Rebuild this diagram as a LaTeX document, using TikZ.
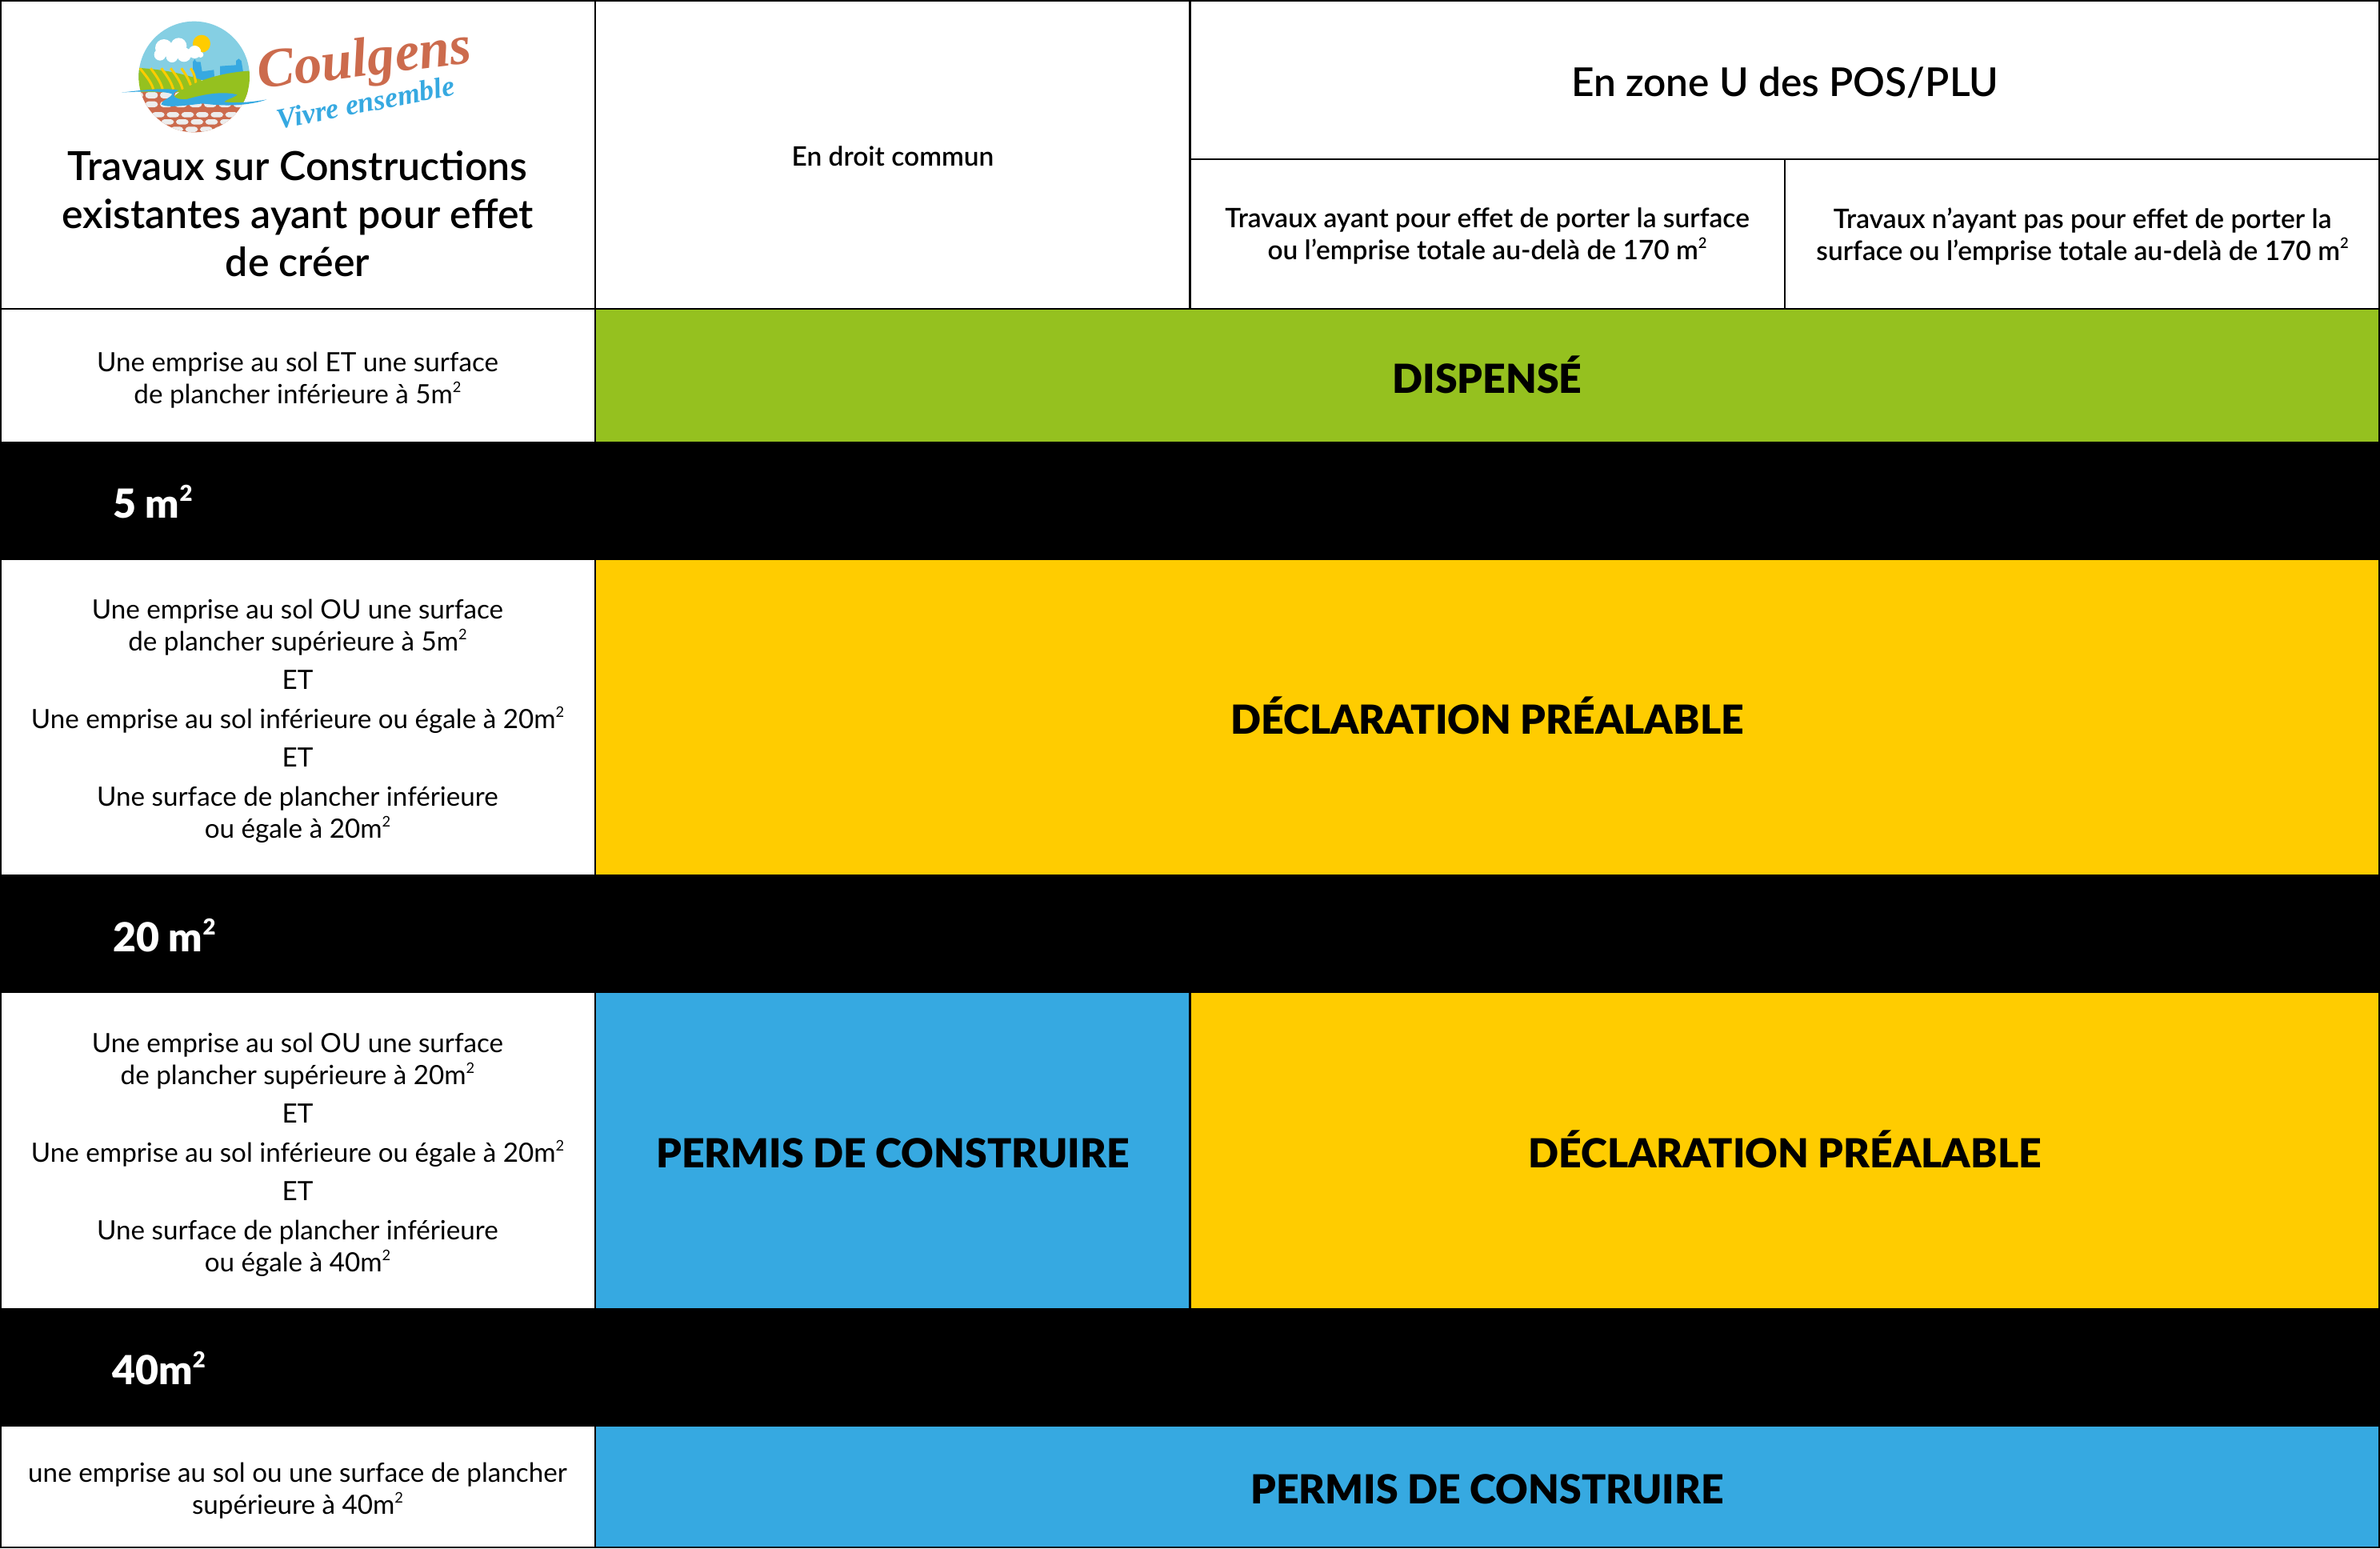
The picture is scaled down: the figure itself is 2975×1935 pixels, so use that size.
\documentclass[tikz,border=0pt]{standalone}
\usepackage{fontspec}
\setmainfont{Lato}
\newfontfamily\latoblack{Lato Black}
\newfontfamily\latomed{Lato Semibold}
\newfontfamily\latoscript{Liberation Serif}[ItalicFont=Liberation Serif Bold Italic]
\definecolor{cgreen}{HTML}{95C11F}
\definecolor{cyellow}{HTML}{FFCC00}
\definecolor{cblue}{HTML}{36A9E1}
\definecolor{csky}{HTML}{85CFE3}
\definecolor{cterra}{HTML}{CC6B4D}
\definecolor{cbrick}{HTML}{EDEDED}
\newcommand{\sqm}{\raisebox{0.42em}{\scalebox{0.55}{2}}}
\tikzset{
  cell/.style={draw=black,line width=1.1pt},
  body/.style={align=center,inner sep=0pt,font=\fontsize{16.6}{20}\selectfont},
  head/.style={align=center,inner sep=0pt,font=\fontsize{16.75}{20}\latomed\selectfont},
  title/.style={align=center,inner sep=0pt,font=\fontsize{25}{30}\latomed\selectfont},
  zonetitle/.style={align=center,inner sep=0pt,font=\fontsize{24.8}{30}\latomed\selectfont},
  verdict/.style={align=center,inner sep=0pt,font=\fontsize{25}{30}\latoblack\selectfont},
  band/.style={anchor=base west,inner sep=0pt,text=white,font=\fontsize{25}{30}\latoblack\selectfont},
}
\begin{document}
\begin{tikzpicture}[x=0.5pt,y=-0.5pt]
\useasboundingbox (0,0) rectangle (2975,1935);
\fill[white] (0,0) rectangle (2975,1935);
% header cells
\path[cell] (1.2,1.2) rectangle (744.2,386);
\path[cell] (744.2,1.2) rectangle (1487.5,386);
\path[cell] (1487.5,1.2) rectangle (2973.8,199);
\path[cell] (1487.5,199) rectangle (2231,386);
\path[cell] (2231,199) rectangle (2973.8,386);
% row 1
\path[cell] (1.2,386) rectangle (744.2,553);
\path[cell,fill=cgreen] (744.2,386) rectangle (2973.8,553);
% row 2
\path[cell] (1.2,699) rectangle (744.2,1094.5);
\path[cell,fill=cyellow] (744.2,699) rectangle (2973.8,1094.5);
% row 3
\path[cell] (1.2,1240) rectangle (744.2,1636);
\path[cell,fill=cblue] (744.2,1240) rectangle (1487.5,1636);
\path[cell,fill=cyellow] (1487.5,1240) rectangle (2973.8,1636);
% row 4
\path[cell] (1.2,1782) rectangle (744.2,1933.8);
\path[cell,fill=cblue] (744.2,1782) rectangle (2973.8,1933.8);
% black bands
\fill[black] (0,552) rectangle (2975,700);
\fill[black] (0,1093.5) rectangle (2975,1241);
\fill[black] (0,1635) rectangle (2975,1783);
% logo (coordinates are 3x pixels, offset 120px)
\begin{scope}[xshift=60pt,x=0.16667pt,y=-0.16667pt]
  \begin{scope}
    \clip (368,288) circle[radius=208];
    \fill[csky] (150,70) rectangle (590,300);
    \fill[cyellow] (396,164) circle[radius=33];
    \fill[white] (255,180) circle[radius=33] (310,172) circle[radius=30] (240,205) circle[radius=22]
      (285,212) circle[radius=22] (330,205) circle[radius=27] (370,195) circle[radius=24] (392,205) circle[radius=11];
    \fill[cblue] (363,300) -- (363,232) -- (370,222) -- (377,232) -- (392,232) -- (398,268) -- (442,262) -- (445,300) -- cycle;
    \fill[cblue] (465,300) -- (465,248) -- (525,244) -- (525,228) -- (535,220) -- (545,228) -- (552,270) -- (552,300) -- cycle;
    \fill[cterra] (150,340) rectangle (590,500);
    \foreach \yy/\hh/\off in {345/24/0,380/22/55,420/20/25,447/20/5,475/20/40}{
      \foreach \k in {0,...,6}{
        \fill[cbrick,rounded corners=2pt] ({130+\off+\k*55},\yy) rectangle +(47,\hh);
      }
    }
    % left field
    \fill[cgreen] (150,254) .. controls (260,260) and (340,280) .. (395,300) -- (395,345) -- (150,345) -- cycle;
    \foreach \a/\b in {165/215,205/250,245/290,280/325,320/360,355/380}{
      \draw[cyellow,line width=1.5pt] (\a,256) .. controls ({\a+18},280) and ({\b-8},305) .. (\b,335);
    }
    % right hill
    \fill[cgreen] (290,365) .. controls (330,320) and (450,270) .. (590,265) -- (590,385) -- (470,385) .. controls (400,350) and (340,385) .. (290,375) -- cycle;
  \end{scope}
  % river
  \fill[cblue] (95,347) .. controls (170,338) and (250,328) .. (310,338) .. controls (280,350) and (285,375) .. (340,372)
    .. controls (400,355) and (470,340) .. (530,355) .. controls (510,370) and (490,372) .. (480,382)
    .. controls (530,388) and (590,382) .. (640,373) .. controls (590,392) and (500,402) .. (400,388)
    .. controls (340,395) and (270,405) .. (245,392) .. controls (245,375) and (285,365) .. (285,352)
    .. controls (250,340) and (170,342) .. (95,347) -- cycle;
\end{scope}
\node[rotate=7,inner sep=0pt,text=cterra,font=\fontsize{34.5}{34.5}\latoscript\itshape\selectfont] (coulgens) at (456,78) {Coulgens};
\node[rotate=11,inner sep=0pt,text=cblue,font=\fontsize{18}{18}\latoscript\itshape\selectfont] (vivre) at (457,128) {Vivre ensemble};
% header texts
\node[title] (ttl) at (372,267) {Travaux sur Constructions\\[0pt]existantes ayant pour effet\\de créer};
\node[head] (ddc) at (1116,195) {En droit commun};
\node[zonetitle] (zone) at (2231,103) {En zone U des POS/PLU};
\node[head] (tr1) at (1859,295) {Travaux ayant pour effet de porter la surface\\ou l’emprise totale au-delà de 170 m\sqm};
\node[head] (tr2) at (2603,295) {Travaux n’ayant pas pour effet de porter la\\surface ou l’emprise totale au-delà de 170 m\sqm};
% left cells
\node[body] (r1) at (372,475) {Une emprise au sol ET une surface\\de plancher inférieure à 5m\sqm};
\node[body] (r2) at (372,901) {Une emprise au sol OU une surface\\de plancher supérieure à 5m\sqm\\[4.2pt]ET\\[4.2pt]Une emprise au sol inférieure ou égale à 20m\sqm\\[4.2pt]ET\\[4.2pt]Une surface de plancher inférieure\\ou égale à 20m\sqm};
\node[body] (r3) at (372,1443) {Une emprise au sol OU une surface\\de plancher supérieure à 20m\sqm\\[4.2pt]ET\\[4.2pt]Une emprise au sol inférieure ou égale à 20m\sqm\\[4.2pt]ET\\[4.2pt]Une surface de plancher inférieure\\ou égale à 40m\sqm};
\node[body] (r4) at (372,1863) {une emprise au sol ou une surface de plancher\\supérieure à 40m\sqm};
% verdicts
\node[verdict] (v1) at (1859,468) {DISPENSÉ};
\node[verdict] (v2) at (1859,894) {DÉCLARATION PRÉALABLE};
\node[verdict] (v3) at (1116,1441) {PERMIS DE CONSTRUIRE};
\node[verdict] (v4) at (2231,1436) {DÉCLARATION PRÉALABLE};
\node[verdict] (v5) at (1859,1861) {PERMIS DE CONSTRUIRE};
% band labels
\node[band] (b1) at (141,647) {5 m\sqm};
\node[band] (b2) at (141,1189) {20 m\sqm};
\node[band] (b3) at (140,1730) {40m\sqm};
\end{tikzpicture}
\end{document}
